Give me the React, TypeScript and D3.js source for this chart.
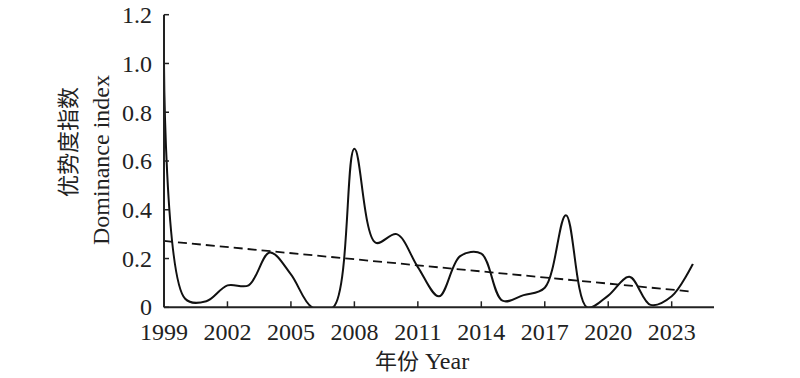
import React from "react";
import * as d3 from "d3";

const years: number[] = [1999,2000,2001,2002,2003,2004,2005,2006,2007,2008,2009,2010,2011,2012,2013,2014,2015,2016,2017,2018,2019,2020,2021,2022,2023,2024];
const dominance: number[] = [1.0,0.035,0.025,0.09,0.09,0.225,0.135,0,0,0.65,0.265,0.30,0.165,0.045,0.21,0.22,0.027,0.05,0.08,0.378,0,0.048,0.125,0.01,0.045,0.178];
const trendYears: number[] = [1999, 2024];
const trendValues: number[] = [0.272, 0.064];
const xTicks: number[] = [1999,2002,2005,2008,2011,2014,2017,2020,2023];
const yTicks: number[] = [0,0.2,0.4,0.6,0.8,1.0,1.2];
const yTickLabels: string[] = ["0","0.2","0.4","0.6","0.8","1.0","1.2"];

const W = 800, H = 378;
const x = d3.scaleLinear().domain([1999, 2025]).range([164, 714]);
const y = d3.scaleLinear().domain([0, 1.2]).range([307.3, 14.7]);

const FONT = "'Liberation Serif', 'Times New Roman', 'Noto Sans CJK SC', serif";

export default function App() {
  const line = d3.line<number>()
    .x((_, i) => x(years[i]))
    .y((d) => y(d))
    .curve(d3.curveCatmullRom.alpha(0.5));
  const trend = d3.line<number>()
    .x((_, i) => x(trendYears[i]))
    .y((d) => y(d));
  return (
    <svg width={W} height={H} style={{ position: "absolute", left: 0, top: 0, background: "#fff" }} fontFamily={FONT}>
      <defs>
        <clipPath id="plotclip">
          <rect x={x(1999) - 2} y={0} width={x(2025) - x(1999) + 4} height={y(0)} />
        </clipPath>
      </defs>
      <g clipPath="url(#plotclip)">
        <path d={line(dominance) || ""} fill="none" stroke="#111" strokeWidth={2} />
      </g>
      <path d={trend(trendValues) || ""} fill="none" stroke="#111" strokeWidth={1.8} strokeDasharray="9,5" />
      <line x1={x(1999)} x2={x(1999)} y1={y(1.2)} y2={y(0)} stroke="#222" strokeWidth={2} />
      <line x1={x(1999)} x2={x(2025)} y1={y(0)} y2={y(0)} stroke="#222" strokeWidth={2} />
      {yTicks.map((t, i) => (
        <g key={"y" + i}>
          <line x1={x(1999)} x2={x(1999) + 5} y1={y(t)} y2={y(t)} stroke="#222" strokeWidth={1.5} />
          <text x={152} y={y(t)} dy={i === 0 ? "0.3em" : "0.35em"} textAnchor="end" fontSize={24} fill="#222">{yTickLabels[i]}</text>
        </g>
      ))}
      {xTicks.map((t, i) => (
        <g key={"x" + i}>
          <line x1={x(t)} x2={x(t)} y1={y(0)} y2={y(0) - 6} stroke="#222" strokeWidth={1.5} />
          <text x={x(t)} y={340} textAnchor="middle" fontSize={24} fill="#222">{t}</text>
        </g>
      ))}
      <text x={422} y={369} textAnchor="middle" fontSize={24} fill="#222">
        <tspan fontFamily="'Noto Sans CJK SC'" fontSize={22}>年份</tspan>
        <tspan> Year</tspan>
      </text>
      <text transform="translate(76,142) rotate(-90)" textAnchor="middle" fontSize={22} fill="#222" fontFamily="'Noto Sans CJK SC'">优势度指数</text>
      <text transform="translate(109,160) rotate(-90)" textAnchor="middle" fontSize={24} fill="#222">Dominance index</text>
    </svg>
  );
}
